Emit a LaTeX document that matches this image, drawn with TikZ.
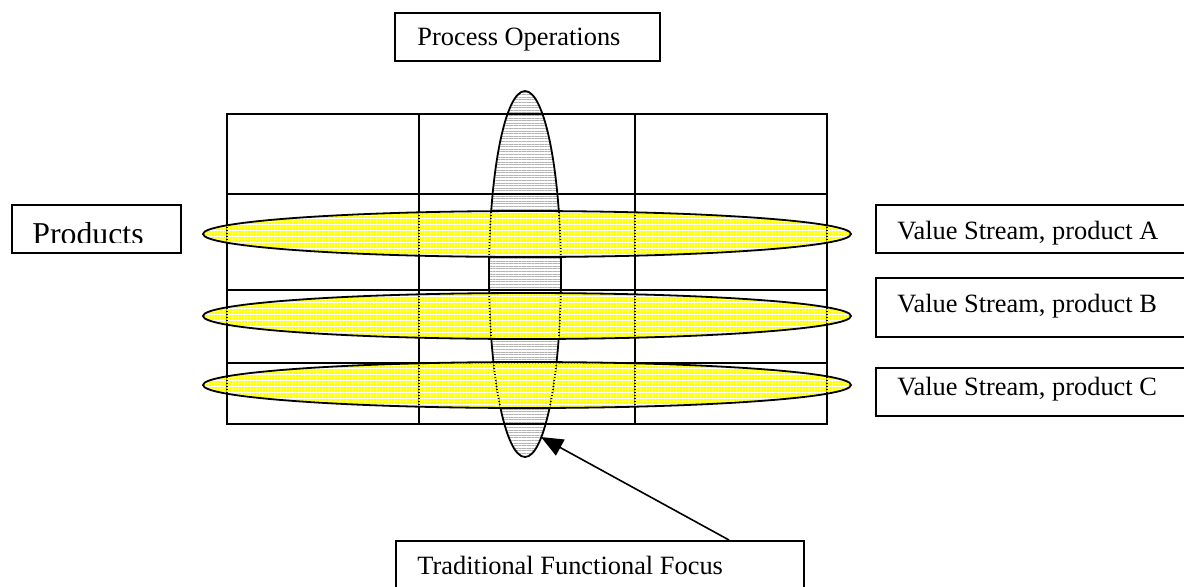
\documentclass[tikz,border=0pt]{standalone}
\usepackage{fontspec}
\setmainfont{Liberation Serif}
\usetikzlibrary{patterns.meta,arrows.meta}
\begin{document}
\begin{tikzpicture}[x=0.5pt,y=-0.5pt,
  box/.style={draw,line width=0.9pt,rectangle,anchor=north west,inner sep=0pt},
  lbl/.style={anchor=base west,inner sep=0pt,font=\fontsize{13.2}{15}\selectfont},
  gridline/.style={line width=1pt},
  yel/.style={pattern={Lines[angle=0,distance=1.5pt,line width=0.65pt]},pattern color=yellow},
  gry/.style={pattern={Lines[angle=0,distance=1.3pt,line width=0.4pt]},pattern color=gray!60},
  ring/.style={line width=0.9pt}]
\useasboundingbox (0,0) rectangle (1184,586);
\clip (0,0) rectangle (1184,586);
% vertical ellipse fill
\fill[gry] (525,274) ellipse [x radius=36, y radius=183];
% white under horizontal ellipses
\foreach \cy in {234,316,385} {\fill[white] (527,\cy) ellipse [x radius=324, y radius=23];}
% grid
\draw[gridline] (227,114) rectangle (827,424);
\draw[gridline] (419,114) -- (419,424);
\draw[gridline] (635,114) -- (635,424);
\draw[gridline] (227,194) -- (827,194);
\draw[gridline] (227,290) -- (827,290);
\draw[gridline] (227,363) -- (827,363);
% vertical ellipse outline
\draw[ring] (525,274) ellipse [x radius=36, y radius=183];
% horizontal ellipses
\foreach \cy in {234,316,385} {\draw[ring,yel] (527,\cy) ellipse [x radius=324, y radius=23];}
% boxes
\node[box,minimum width=132.5pt,minimum height=24pt] (po) at (394,12) {};
\node[lbl] (potxt) at (417,45) {Process Operations};
\node[box,minimum width=84.5pt,minimum height=24pt] (prod) at (11,204) {};
\begin{scope}
\clip (11,204) rectangle (180,242);
\node[anchor=base west,inner sep=0pt,font=\fontsize{15.9}{18}\selectfont] (prodtxt) at (32,244) {Products};
\end{scope}
\node[box,minimum width=162.5pt,minimum height=24pt] (vsa) at (875,204) {};
\node[lbl] (vsatxt) at (897,239) {Value Stream, product A};
\node[box,minimum width=162.5pt,minimum height=29.5pt] (vsb) at (875,277) {};
\node[lbl] (vsbtxt) at (897,312) {Value Stream, product B};
\node[box,minimum width=162.5pt,minimum height=24pt] (vsc) at (875,367) {};
\node[lbl] (vsctxt) at (897,395) {Value Stream, product C};
\node[box,minimum width=204pt,minimum height=40pt] (tff) at (395,540) {};
\node[lbl] (tfftxt) at (417,574) {Traditional Functional Focus};
% arrow
\coordinate (astart) at (729,540);
\coordinate (atip) at (541,437);
\draw[line width=0.8pt,-{Triangle[length=11pt,width=9pt]}] (astart) -- (atip);
\end{tikzpicture}
\end{document}
